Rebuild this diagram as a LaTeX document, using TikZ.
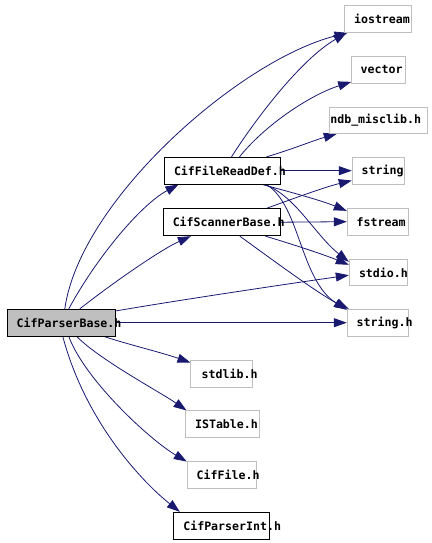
\documentclass[tikz,border=0pt]{standalone}
\usepackage{fontspec}
\newfontfamily\doxfont[HyphenChar=None]{DejaVu Sans Mono}
\usetikzlibrary{arrows.meta,calc,backgrounds}
\definecolor{edgecol}{HTML}{191970}
\definecolor{gborder}{HTML}{BFBFBF}
\tikzset{
  base/.style={rectangle, inner ysep=0pt, line width=1pt, align=left,
    font=\doxfont\bfseries\fontsize{11.6}{13}\selectfont},
  gbox/.style={base, draw=gborder},
  kbox/.style={base, draw=black},
  rootbox/.style={base, draw=black, fill=gborder},
  dep/.style={draw=edgecol, line width=0.8pt,
    -{Triangle[length=13pt,width=9pt,fill=edgecol]}}
}
\begin{document}
\begin{tikzpicture}[x=1pt,y=-1pt]
\useasboundingbox (0,0) rectangle (431,543);
% nodes
\node[rootbox, text width=89.6pt, inner xsep=9.4pt, minimum height=26.7pt] (pb) at (61.5,322.7) {CifParserBase.h};
\node[kbox, text width=96pt, inner xsep=10pt, minimum height=26.7pt] (frd) at (222,170.7) {CifFileReadDef.h};
\node[kbox, text width=97.9pt, inner xsep=9.4pt, minimum height=27pt] (scb) at (221.7,222.2) {CifScannerBase.h};
\node[gbox, text width=47.7pt, inner xsep=10pt, minimum height=27.3pt] (ios) at (377.9,18.7) {iostream};
\node[gbox, text width=36pt, inner xsep=9pt, minimum height=27.3pt] (vec) at (378.7,69.7) {vector};
\node[gbox, text width=96.4pt, inner xsep=1pt, minimum height=26pt] (ndb) at (378.5,120.3) {ndb\_misclib.h};
\node[gbox, text width=33.2pt, inner xsep=9.4pt, minimum height=26.7pt] (str) at (378.3,170.7) {string};
\node[gbox, text width=42.2pt, inner xsep=9.4pt, minimum height=26.7pt] (fst) at (377.8,221.7) {fstream};
\node[gbox, text width=38.6pt, inner xsep=9.7pt, minimum height=26.4pt] (sio) at (378.3,272.5) {stdio.h};
\node[gbox, text width=42.2pt, inner xsep=9.4pt, minimum height=26.7pt] (sth) at (377.8,322.7) {string.h};
\node[gbox, text width=40.3pt, inner xsep=10.7pt, minimum height=27.3pt] (slb) at (221.8,373.7) {stdlib.h};
\node[gbox, text width=54.3pt, inner xsep=10pt, minimum height=26.7pt] (ist) at (222.2,424.3) {ISTable.h};
\node[gbox, text width=50.6pt, inner xsep=9.4pt, minimum height=27.3pt] (cff) at (222,474.7) {CifFile.h};
\node[kbox, text width=76pt, inner xsep=10pt, minimum height=27pt] (cpi) at (221.3,525.8) {CifParserInt.h};
% edges
\begin{scope}[on background layer]
% from CifParserBase.h
\draw[dep] ($(pb.north west)+(58,0)$) .. controls (80,200) and (240,60) .. ($(ios.south west)+(4,0)$);
\draw[dep] ($(pb.north west)+(62,0)$) .. controls (95,260) and (140,205) .. ($(frd.south west)+(15,0)$);
\draw[dep] ($(pb.north west)+(73,0)$) .. controls (110,285) and (160,250) .. ($(scb.south west)+(28,0)$);
\draw[dep] ($(pb.north east)+(0,2)$) .. controls (180,300) and (280,285) .. ($(sio.south west)+(0,-11)$);
\draw[dep] (pb.east) -- (sth.west);
\draw[dep] ($(pb.south east)+(-12,0)$) .. controls (130,345) and (160,352) .. ($(slb.north west)+(0,3)$);
\draw[dep] ($(pb.south west)+(70,0)$) .. controls (100,360) and (160,392) .. ($(ist.north west)+(2,0)$);
\draw[dep] ($(pb.south west)+(62,0)$) .. controls (85,380) and (150,440) .. ($(cff.north west)+(0,1)$);
\draw[dep] ($(pb.south west)+(56,0)$) .. controls (85,420) and (140,480) .. ($(cpi.north west)+(7,0)$);
% from CifFileReadDef.h
\draw[dep] ($(frd.north west)+(68,0)$) .. controls (255,120) and (300,60) .. ($(ios.south west)+(3,0)$);
\draw[dep] ($(frd.north west)+(76,0)$) .. controls (265,125) and (310,95) .. ($(vec.south west)+(0,-2)$);
\draw[dep] ($(frd.north west)+(103,0)$) .. controls (290,150) and (315,140) .. ($(ndb.south west)+(8,0)$);
\draw[dep] (frd.east) -- (str.west);
\draw[dep] ($(frd.south east)+(-18,0)$) .. controls (290,192) and (320,200) .. ($(fst.north west)+(0,3)$);
\draw[dep] ($(frd.south east)+(-16,0)$) .. controls (295,195) and (315,235) .. ($(sio.north west)+(0,3)$);
\draw[dep] ($(frd.south east)+(-14,0)$) .. controls (300,205) and (300,280) .. ($(sth.north west)+(0,1)$);
% from CifScannerBase.h
\draw[dep] ($(scb.north west)+(104,0)$) .. controls (295,198) and (325,187) .. ($(str.south west)+(0,-4)$);
\draw[dep] (scb.east) -- (fst.west);
\draw[dep] ($(scb.south east)+(-15,0)$) .. controls (295,245) and (325,255) .. ($(sio.north west)+(0,6)$);
\draw[dep] ($(scb.south west)+(77,0)$) .. controls (270,258) and (320,295) .. ($(sth.north west)+(2,0)$);
\end{scope}
\end{tikzpicture}
\end{document}
